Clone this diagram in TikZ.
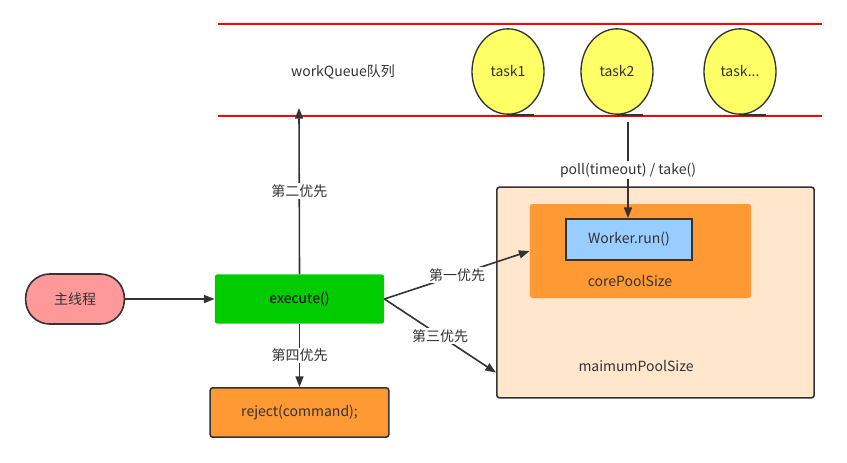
\documentclass[tikz,border=0pt]{standalone}
\usepackage{fontspec}
\setmainfont{Noto Sans CJK SC}
\usetikzlibrary{shapes,arrows.meta,positioning}
\definecolor{darkline}{HTML}{333333}
\definecolor{mainred}{HTML}{FF9999}
\definecolor{execgreen}{HTML}{00CC00}
\definecolor{poolorange}{HTML}{FF9933}
\definecolor{poolpeach}{HTML}{FFE6CC}
\definecolor{workerblue}{HTML}{99CCFF}
\definecolor{taskyellow}{HTML}{FFFF66}
\tikzstyle{rec} = [rectangle,draw=darkline,line width=1.2pt,rounded corners=2pt,text=darkline,text centered]

\begin{document}
\begin{tikzpicture}
		[
		x=0.75pt,y=-0.75pt,
		font=\fontsize{10.5}{12}\selectfont,
		task/.style={
		ellipse,
		draw=darkline,
		line width=1pt,
		fill=taskyellow,
		text=darkline,
		minimum width=54pt,
		minimum height=64pt},
		tag/.style={fill=white,text=darkline,inner sep=1pt},
		arrow/.style={-{Triangle[length=8pt,width=6pt]},draw=darkline,line width=1.2pt}
		]
		\useasboundingbox (0,0) rectangle (847,462);
		% queue
		\draw[red,line width=1.3pt] (218,24) -- (822,24);
		\draw[red,line width=1.3pt] (218,116) -- (822,116);
		\node[text=darkline](queue) at (343,72) {workQueue队列};
		\node[task](task1) at (508,71.5) {task1};
		\node[task](task2) at (617,71.5) {task2};
		\node[task](taskn) at (740,71.5) {task...};
		\foreach \t in {task1,task2,taskn}
			\draw[darkline,line width=1pt] (\t.south) -- (\t.south east |- \t.south);
		\coordinate (qin) at (299,108);
		\coordinate (qout) at (628,122);
		
		% pools
		\node[rec,fill=poolpeach,minimum width=238pt,minimum height=158pt](maxpool) at (655.5,292.5) {};
		\node[rectangle,fill=poolorange,rounded corners=2pt,minimum width=166pt,minimum height=70.5pt](corepool) at (640.5,251) {};
		\node[rec,rounded corners=0pt,fill=workerblue,minimum width=94.5pt,minimum height=31pt](worker) at (629,239.5) {Worker.run()};
		\node[text=darkline] at (630,281) {corePoolSize};
		\node[text=darkline] at (636,366) {maimumPoolSize};
		
		% main flow
		\node[rec,fill=mainred,rounded corners=18pt,minimum width=74pt,minimum height=37.5pt](mainthread) at (75,299) {主线程};
		\node[rectangle,fill=execgreen,rounded corners=2pt,minimum width=127pt,minimum height=37pt](execute) at (299.5,299) {execute()};
		\node[rec,fill=poolorange,minimum width=134pt,minimum height=37pt](reject) at (299.5,412.5) {reject(command);};
		
		\draw[arrow] (mainthread) -- (execute);
		\draw[arrow] (execute.north) -- node[tag]{第二优先} (qin);
		\draw[arrow] (execute.east) -- node[tag]{第一优先} (corepool.west);
		\draw[arrow] (execute.east) -- node[tag]{第三优先} ([yshift=19.5pt]maxpool.south west);
		\draw[arrow] (execute.south) -- node[tag]{第四优先} (reject.north);
		\draw[arrow] (qout) -- node[tag]{poll(timeout) / take()} (qout |- worker.north);
		\end{tikzpicture}
\end{document}
